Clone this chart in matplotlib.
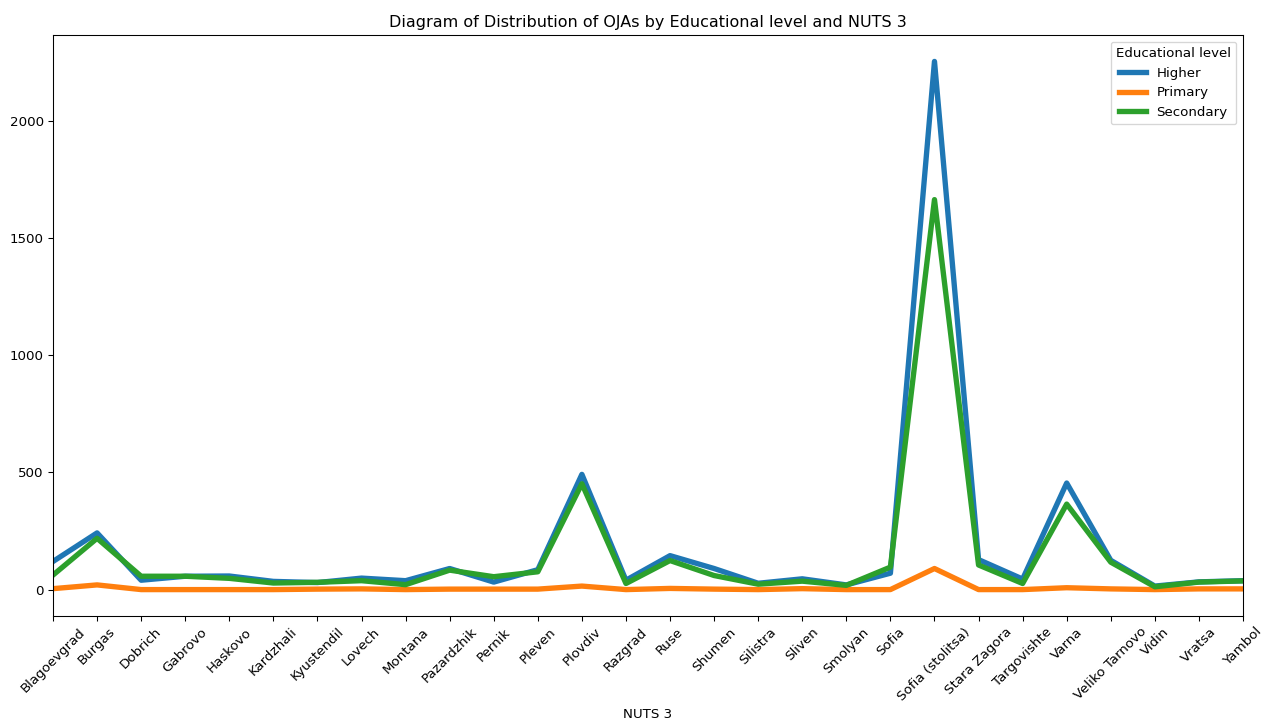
import matplotlib
matplotlib.use('Agg')
import matplotlib.pyplot as plt
import pandas as pd

regions = ['Blagoevgrad', 'Burgas', 'Dobrich', 'Gabrovo', 'Haskovo', 'Kardzhali',
           'Kyustendil', 'Lovech', 'Montana', 'Pazardzhik', 'Pernik', 'Pleven',
           'Plovdiv', 'Razgrad', 'Ruse', 'Shumen', 'Silistra', 'Sliven', 'Smolyan',
           'Sofia', 'Sofia (stolitsa)', 'Stara Zagora', 'Targovishte', 'Varna',
           'Veliko Tarnovo', 'Vidin', 'Vratsa', 'Yambol']

higher = [120, 242, 40, 57, 58, 35, 30, 49, 38, 90, 32, 85,
          492, 40, 145, 90, 27, 46, 20, 70, 2255, 128, 45, 455,
          125, 15, 33, 38]
primary = [4, 20, 0, 0, 0, 0, 2, 3, 0, 2, 2, 2,
           15, 0, 5, 2, 0, 4, 0, 0, 90, 0, 0, 8,
           3, 0, 3, 3]
secondary = [62, 219, 57, 57, 48, 28, 31, 38, 21, 83, 55, 76,
             452, 26, 124, 60, 23, 36, 18, 96, 1665, 105, 26, 365,
             117, 12, 32, 37]

df = pd.DataFrame({'Higher': higher, 'Primary': primary, 'Secondary': secondary},
                  index=pd.Index(regions, name='NUTS 3'))
df.columns.name = 'Educational level'

dpi = 96
fig = plt.figure(figsize=(1263 / dpi, 724 / dpi), dpi=dpi)
ax = fig.add_axes([53 / 1263, 1 - 616 / 724, 1190 / 1263, 581 / 724])

df.plot(ax=ax, linewidth=4, rot=45)
ax.set_xticks(range(len(regions)))
ax.set_xticklabels(regions, rotation=45)
ax.set_xlim(0, len(regions) - 1)
ax.set_title('Diagram of Distribution of OJAs by Educational level and NUTS 3')
ax.legend(title='Educational level', loc='upper right')

fig.savefig('out.png', dpi=dpi)
